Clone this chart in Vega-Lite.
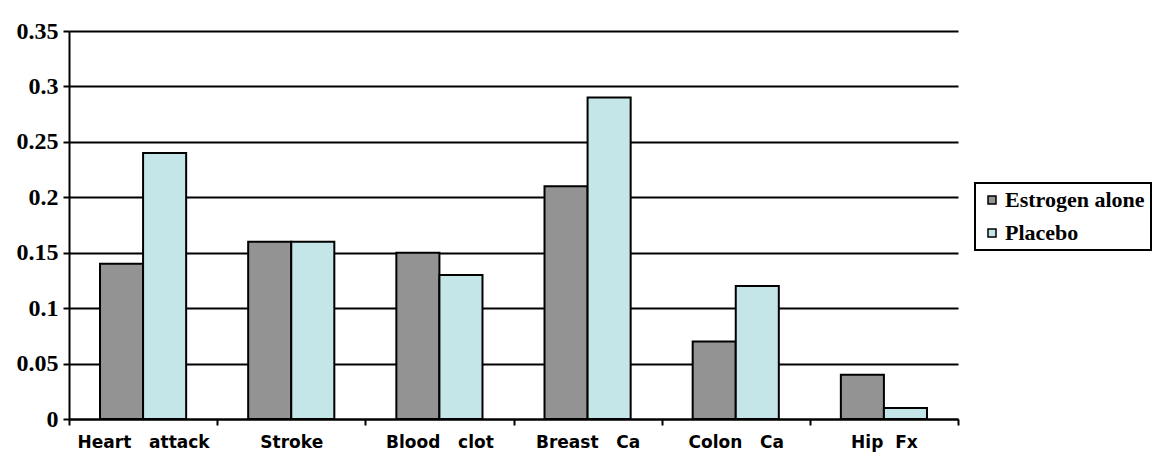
{
  "$schema": "https://vega.github.io/schema/vega-lite/v6.json",
  "width": 889,
  "height": 388,
  "autosize": {"type": "none"},
  "padding": {"left": 69, "top": 31, "right": 201, "bottom": 40},
  "background": "white",
  "data": {
    "values": [
      {"outcome": "Heart\u00a0\u00a0\u00a0attack", "group": "Estrogen alone", "value": 0.14},
      {"outcome": "Heart\u00a0\u00a0\u00a0attack", "group": "Placebo", "value": 0.24},
      {"outcome": "Stroke", "group": "Estrogen alone", "value": 0.16},
      {"outcome": "Stroke", "group": "Placebo", "value": 0.16},
      {"outcome": "Blood\u00a0\u00a0\u00a0clot", "group": "Estrogen alone", "value": 0.15},
      {"outcome": "Blood\u00a0\u00a0\u00a0clot", "group": "Placebo", "value": 0.13},
      {"outcome": "Breast\u00a0\u00a0\u00a0Ca", "group": "Estrogen alone", "value": 0.21},
      {"outcome": "Breast\u00a0\u00a0\u00a0Ca", "group": "Placebo", "value": 0.29},
      {"outcome": "Colon\u00a0\u00a0\u00a0Ca", "group": "Estrogen alone", "value": 0.07},
      {"outcome": "Colon\u00a0\u00a0\u00a0Ca", "group": "Placebo", "value": 0.12},
      {"outcome": "Hip\u00a0\u00a0Fx", "group": "Estrogen alone", "value": 0.04},
      {"outcome": "Hip\u00a0\u00a0Fx", "group": "Placebo", "value": 0.01}
    ]
  },
  "mark": {"type": "bar", "stroke": "black", "strokeWidth": 2},
  "encoding": {
    "x": {
      "field": "outcome",
      "type": "nominal",
      "sort": null,
      "scale": {"paddingInner": 0, "paddingOuter": 0},
      "axis": {
        "title": null,
        "labelAngle": 0,
        "labelFont": "DejaVu Sans",
        "labelFontSize": 17,
        "labelFontWeight": "bold",
        "labelColor": "black",
        "labelPadding": 9,
        "tickBand": "extent",
        "tickColor": "black",
        "tickWidth": 2,
        "tickSize": 6,
        "domainColor": "black",
        "domainWidth": 2,
        "grid": false
      }
    },
    "xOffset": {
      "field": "group",
      "type": "nominal",
      "sort": ["Estrogen alone", "Placebo"],
      "scale": {"paddingInner": 0, "paddingOuter": 0.72}
    },
    "y": {
      "field": "value",
      "type": "quantitative",
      "scale": {"domain": [0, 0.35], "nice": false},
      "axis": {
        "title": null,
        "values": [0, 0.05, 0.1, 0.15, 0.2, 0.25, 0.3, 0.35],
        "labelExpr": "format(datum.value, '.2~f')",
        "labelFont": "Liberation Serif",
        "labelFontSize": 24,
        "labelFontWeight": "bold",
        "labelColor": "black",
        "labelPadding": 5,
        "tickColor": "black",
        "tickWidth": 2,
        "tickSize": 6,
        "domainColor": "black",
        "domainWidth": 2,
        "grid": true,
        "gridColor": "black",
        "gridWidth": 2,
        "gridOpacity": 1
      }
    },
    "color": {
      "field": "group",
      "type": "nominal",
      "sort": ["Estrogen alone", "Placebo"],
      "scale": {"domain": ["Estrogen alone", "Placebo"], "range": ["#939393", "#c5e6e8"]},
      "legend": {
        "title": null,
        "orient": "none",
        "legendX": 906,
        "legendY": 152,
        "labelFont": "Liberation Serif",
        "labelFontSize": 22,
        "labelFontWeight": "bold",
        "labelColor": "black",
        "symbolType": "square",
        "symbolSize": 64,
        "symbolStrokeColor": "black",
        "symbolStrokeWidth": 1.5,
        "labelOffset": 2,
        "rowPadding": 11,
        "padding": 6,
        "strokeColor": "black",
        "fillColor": "white"
      }
    }
  },
  "config": {"view": {"stroke": null}, "legend": {"strokeWidth": 2}}
}
